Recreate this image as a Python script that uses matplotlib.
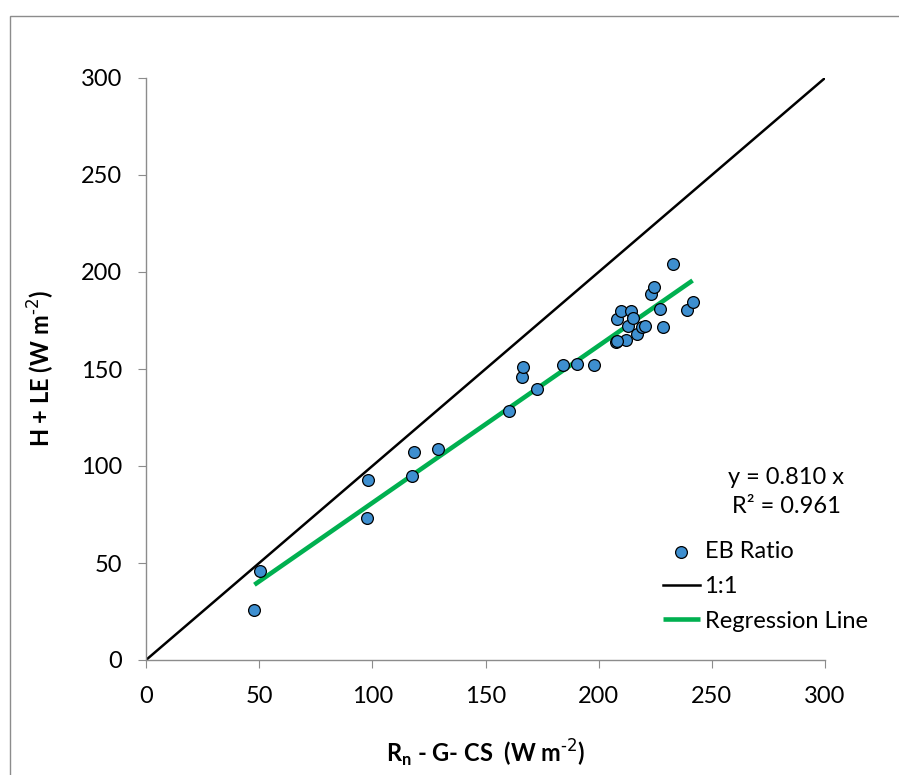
import matplotlib
matplotlib.use("Agg")
import matplotlib.pyplot as plt
from matplotlib.patches import Rectangle
import numpy as np

plt.rcParams['font.family'] = ['Lato', 'DejaVu Sans']

# Data: Rn - G - CS (x) vs H + LE (y), W m-2
x_vals = [47.9, 50.2, 97.5, 98.3, 117.6, 118.6, 129.0, 160.6, 166.2, 166.7,
          172.8, 184.4, 190.3, 197.9, 207.8, 208.2, 210.0, 212.0, 213.1, 214.4,
          215.3, 216.8, 219.0, 220.5, 223.3, 224.4, 227.0, 228.6, 233.0, 238.9,
          241.5, 208.0]
y_vals = [26.0, 45.7, 73.0, 92.9, 94.9, 107.4, 108.7, 128.1, 145.9, 151.0,
          139.8, 152.0, 152.6, 152.3, 164.0, 175.9, 179.9, 164.9, 172.2, 179.9,
          176.1, 168.0, 171.8, 172.2, 188.5, 192.1, 180.8, 171.6, 204.1, 180.2,
          184.7, 164.4]
slope = 0.810
r2 = 0.961
reg_x = [min(x_vals), max(x_vals)]
one_to_one = [0, 300]
ticks = [0, 50, 100, 150, 200, 250, 300]

FS = 17

fig = plt.figure(figsize=(8.99, 7.75), dpi=100)
ax = fig.add_axes([146/899, 1-660/775, (825-146)/899, (660-78)/775])

ax.plot(one_to_one, one_to_one, color='black', lw=1.8, label='1:1', zorder=2)
ax.plot(reg_x, [slope*v for v in reg_x], color='#00B050', lw=3.3,
        label='Regression Line', zorder=2, solid_capstyle='butt')
ax.scatter(x_vals, y_vals, s=72, color='#3E8FD0', edgecolor='black',
           linewidth=0.9, label='EB Ratio', zorder=3)

ax.set_xlim(0, 300)
ax.set_ylim(0, 300)
ax.set_xticks(ticks)
ax.set_yticks(ticks)
for s in ['top', 'right']:
    ax.spines[s].set_visible(False)
for s in ['left', 'bottom']:
    ax.spines[s].set_color('#8c8c8c')
    ax.spines[s].set_linewidth(1.0)
ax.tick_params(direction='out', length=6, color='#8c8c8c', labelsize=FS)
ax.tick_params(axis='y', pad=11)
ax.tick_params(axis='x', pad=13)

ax.set_xlabel(r'R$_\mathregular{n}$ - G- CS  (W m$^{\text{-2}}$)',
              fontsize=FS, fontweight='bold')
ax.set_ylabel(r'H + LE (W m$^{\text{-2}}$)', fontsize=FS,
              fontweight='bold')
ax.xaxis.set_label_coords(0.5, (660-738)/582)
ax.yaxis.set_label_coords((57-146)/679, 0.5)

ax.text(0.9426, 0.3144, f'y = {slope:.3f} x', transform=ax.transAxes,
        ha='center', va='center', fontsize=FS)
ax.text(0.9426, 0.263, f'R² = {r2:.3f}', transform=ax.transAxes,
        ha='center', va='center', fontsize=FS)

handles, labels = ax.get_legend_handles_labels()
order = [2, 0, 1]
leg = ax.legend([handles[i] for i in order], [labels[i] for i in order],
                loc='upper left', bbox_to_anchor=(0.761, 0.204),
                frameon=False, fontsize=FS, handlelength=1.57,
                handletextpad=0.2, borderaxespad=0, labelspacing=0.58,
                borderpad=0)

fig.patches.append(Rectangle((10/899, -0.1), 1.0, 1-16/775+0.1,
                             transform=fig.transFigure, fill=False,
                             edgecolor='#8c8c8c', lw=1.0))

fig.savefig('out.png', dpi=100)
